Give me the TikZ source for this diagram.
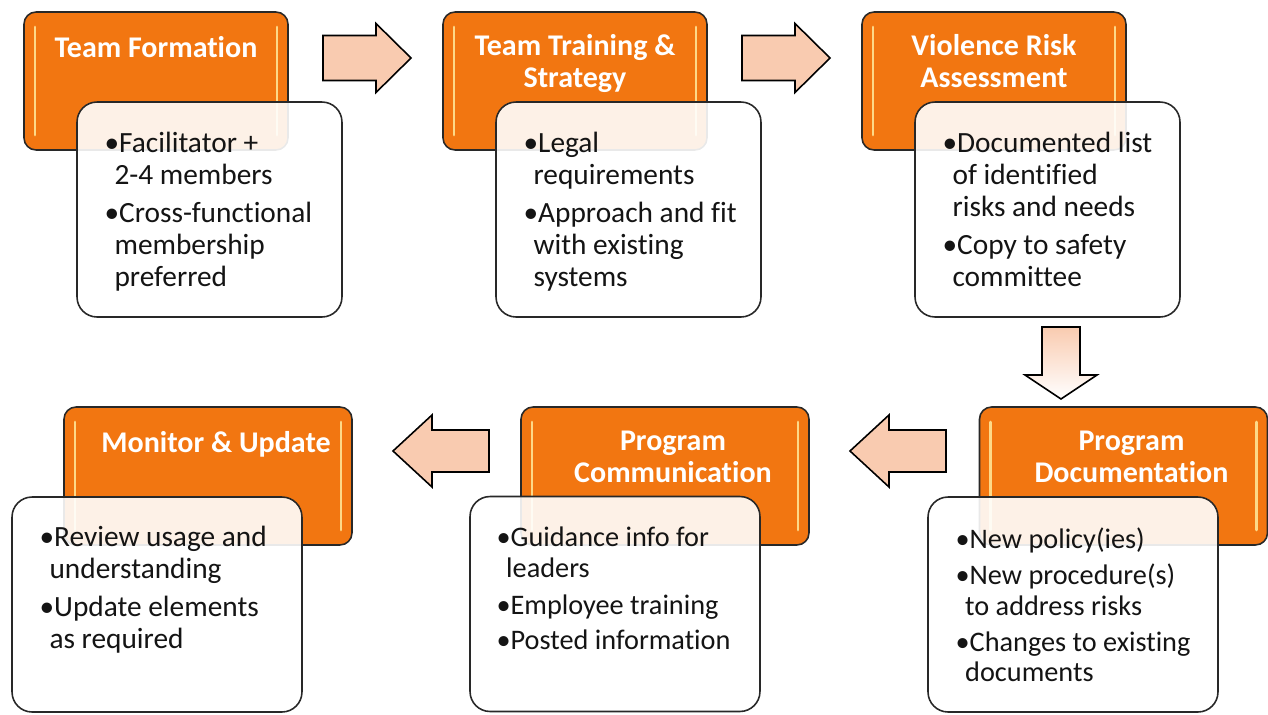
\documentclass[tikz,border=0pt]{standalone}
\usepackage{fontspec}
\setmainfont[Ligatures=NoCommon]{Carlito}
\usepackage{tikz}
\usetikzlibrary{positioning,calc}
\definecolor{stageorange}{RGB}{242,118,17}
\definecolor{edgegray}{RGB}{40,40,40}
\definecolor{arrowpeach}{RGB}{249,203,176}
\definecolor{glintyellow}{RGB}{255,228,150}
\definecolor{bodyblack}{RGB}{20,20,20}

\newcommand{\ind}{\hspace*{0.34em}}

\begin{document}
\begin{tikzpicture}[x=0.02cm, y=-0.02cm,
    stage/.style={draw=edgegray, line width=0.9pt, fill=stageorange, rounded corners=0.24cm,
        minimum width=5.28cm, minimum height=2.76cm, inner sep=0pt,
        path picture={
            \draw[glintyellow, line width=1.6pt, line cap=round, opacity=0.9]
                ([xshift=0.22cm,yshift=-0.3cm]path picture bounding box.north west) --
                ([xshift=0.22cm,yshift=0.3cm]path picture bounding box.south west)
                ([xshift=-0.22cm,yshift=-0.3cm]path picture bounding box.north east) --
                ([xshift=-0.22cm,yshift=0.3cm]path picture bounding box.south east);
        }},
    widestage/.style={stage, minimum width=5.76cm},
    notes/.style={draw=edgegray, line width=0.9pt, fill=white, fill opacity=0.9,
        rounded corners=0.4cm, minimum width=5.3cm, minimum height=4.3cm, inner sep=0pt},
    widenotes/.style={notes, minimum width=5.8cm},
    head/.style={text=white, font=\fontsize{17.1pt}{18.2pt}\selectfont\bfseries, align=center, inner sep=0pt},
    body/.style={text=bodyblack, font=\fontsize{16.7pt}{18.2pt}\selectfont, align=left, inner sep=0pt},
    smallbody/.style={body, font=\fontsize{16.1pt}{17.5pt}\selectfont},
    flowarrow/.style={draw=black, line width=0.9pt, fill=arrowpeach, line join=miter},
    downflow/.style={draw=black, line width=0.9pt, top color=arrowpeach, bottom color=white, line join=miter},
    pics/barrow/.style n args={4}{code={
        \path[pic actions] (-#1/2,-#3/2) -- ({#1/2-#4},-#3/2) -- ({#1/2-#4},-#2/2) -- (#1/2,0)
            -- ({#1/2-#4},#2/2) -- ({#1/2-#4},#3/2) -- (-#1/2,#3/2) -- cycle;
    }}
]
\useasboundingbox (0,0) rectangle (1268,714);

\node[stage] (form) at (156,81) {};
\node[stage] (train) at (575,81) {};
\node[stage] (risk) at (994,81) {};
\node[widestage] (monitor) at (208,476) {};
\node[widestage] (comm) at (665,476) {};
\node[widestage] (doc) at (1123.5,476) {};

\node[head, below=0.5cm of form.north] (formhead) {Team Formation};
\node[head, below=0.46cm of train.north] (trainhead) {Team Training \&\\Strategy};
\node[head, below=0.46cm of risk.north] (riskhead) {Violence Risk\\Assessment};
\node[head, below=0.49cm of monitor.north, xshift=0.16cm] (monitorhead) {Monitor \& Update};
\node[head, below=0.49cm of comm.north, xshift=0.16cm] (commhead) {Program\\Communication};
\node[head, below=0.49cm of doc.north, xshift=0.16cm] (dochead) {Program\\Documentation};

\pic[flowarrow] at (367,58) {barrow={88}{69}{45}{35}};
\pic[flowarrow] at (786,58) {barrow={88}{69}{45}{35}};
\pic[downflow, rotate=-90] at (1061,363) {barrow={72}{72}{38}{24}};
\pic[flowarrow, rotate=180] at (898,451) {barrow={96}{72}{42}{39}};
\pic[flowarrow, rotate=180] at (441,451) {barrow={96}{72}{42}{39}};

\node[notes] (formnotes) at (209.5,209.5) {};
\node[notes] (trainnotes) at (628.5,209.5) {};
\node[notes] (risknotes) at (1047.5,209.5) {};
\node[widenotes] (monitornotes) at (157,604.5) {};
\node[widenotes] (commnotes) at (615,604) {};
\node[widenotes] (docnotes) at (1073,604.5) {};

\node[body, below right=0.62cm and 0.56cm of formnotes.north west] (formtext)
    {\textbullet Facilitator +\\\ind 2-4 members\\[3.4pt]\textbullet Cross-functional\\\ind membership\\\ind preferred};
\node[body, below right=0.62cm and 0.56cm of trainnotes.north west] (traintext)
    {\textbullet Legal\\\ind requirements\\[3.4pt]\textbullet Approach and fit\\\ind with existing\\\ind systems};
\node[body, below right=0.62cm and 0.56cm of risknotes.north west] (risktext)
    {\textbullet Documented list\\\ind of identified\\\ind risks and needs\\[3.4pt]\textbullet Copy to safety\\\ind committee};
\node[body, below right=0.6cm and 0.56cm of monitornotes.north west] (monitortext)
    {\textbullet Review usage and\\\ind understanding\\[3.4pt]\textbullet Update elements\\\ind as required};
\node[smallbody, below right=0.62cm and 0.54cm of commnotes.north west] (commtext)
    {\textbullet Guidance info for\\\ind leaders\\[3.6pt]\textbullet Employee training\\[2.2pt]\textbullet Posted information};
\node[smallbody, below right=0.62cm and 0.56cm of docnotes.north west] (doctext)
    {\textbullet New policy(ies)\\[3pt]\textbullet New procedure(s)\\\ind to address risks\\[3pt]\textbullet Changes to existing\\\ind documents};

\end{tikzpicture}
\end{document}
